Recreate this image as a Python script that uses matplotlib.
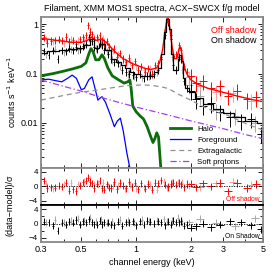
import numpy as np
import matplotlib
matplotlib.use('Agg')
import matplotlib.pyplot as plt
from matplotlib.ticker import FixedLocator, NullFormatter, MultipleLocator

plt.rcParams['font.family'] = ['Liberation Sans', 'DejaVu Sans']
plt.rcParams['axes.unicode_minus'] = True

# ---------------- models ----------------
off_mod_e = [0.3, 0.35, 0.4, 0.45, 0.5, 0.54, 0.57, 0.6, 0.65, 0.7, 0.75, 0.8, 0.85, 0.9, 0.95,
             1.0, 1.1, 1.2, 1.3, 1.35, 1.4, 1.45, 1.49, 1.53, 1.58, 1.63, 1.68, 1.72, 1.75, 1.78,
             1.83, 1.9, 2.0, 2.2, 2.5, 3.0, 3.5, 4.0, 4.5, 5.0]
off_mod_y = [0.52, 0.48, 0.45, 0.43, 0.43, 0.47, 0.55, 0.47, 0.5, 0.4, 0.3, 0.24, 0.2, 0.18, 0.16,
             0.15, 0.13, 0.12, 0.13, 0.17, 0.3, 0.8, 1.4, 0.9, 0.35, 0.2, 0.2, 0.3, 0.35, 0.28,
             0.15, 0.1, 0.075, 0.06, 0.05, 0.042, 0.036, 0.032, 0.029, 0.027]

on_mod_e = [0.3, 0.35, 0.4, 0.45, 0.5, 0.54, 0.57, 0.6, 0.65, 0.7, 0.75, 0.8, 0.85, 0.9, 0.95,
            1.0, 1.1, 1.2, 1.3, 1.35, 1.4, 1.45, 1.49, 1.53, 1.58, 1.63, 1.68, 1.72, 1.75, 1.78,
            1.83, 1.9, 2.0, 2.2, 2.5, 2.8, 3.2, 3.7, 4.3, 5.0]
on_mod_y = [0.26, 0.28, 0.3, 0.31, 0.33, 0.38, 0.5, 0.33, 0.4, 0.3, 0.2, 0.17, 0.15, 0.13, 0.11,
            0.1, 0.088, 0.09, 0.11, 0.13, 0.25, 0.7, 1.3, 0.8, 0.25, 0.12, 0.12, 0.2, 0.24, 0.18,
            0.08, 0.05, 0.042, 0.032, 0.024, 0.019, 0.016, 0.013, 0.011, 0.01]

halo_e = [0.3, 0.35, 0.4, 0.45, 0.5, 0.53, 0.55, 0.565, 0.58, 0.6, 0.625, 0.65, 0.67, 0.7, 0.74,
          0.8, 0.86, 0.9, 0.925, 0.94, 0.96, 1.0, 1.05, 1.1, 1.15, 1.2, 1.24, 1.27, 1.3, 1.33, 1.37]
halo_y = [0.09, 0.1, 0.112, 0.125, 0.14, 0.165, 0.25, 0.32, 0.28, 0.19, 0.19, 0.24, 0.2, 0.13, 0.09,
          0.075, 0.064, 0.068, 0.074, 0.05, 0.022, 0.017, 0.014, 0.012, 0.0085, 0.0055, 0.004, 0.0048,
          0.0063, 0.0052, 0.0012]

fg_e = [0.3, 0.33, 0.36, 0.39, 0.42, 0.445, 0.47, 0.5, 0.52, 0.55, 0.573, 0.595, 0.617, 0.635, 0.65,
        0.68, 0.72, 0.76, 0.79, 0.82, 0.85, 0.89, 0.93]
fg_y = [0.074, 0.077, 0.072, 0.068, 0.08, 0.093, 0.08, 0.047, 0.05, 0.075, 0.086, 0.05, 0.029, 0.032,
        0.034, 0.026, 0.015, 0.0084, 0.011, 0.0125, 0.007, 0.0025, 0.0011]

exg_e = [0.3, 0.4, 0.5, 0.6, 0.7, 0.8, 0.9, 1.0, 1.1, 1.25, 1.4, 1.5, 1.74, 2.0, 2.25, 2.7, 3.16,
         4.0, 4.6, 5.0]
exg_y = [0.029, 0.036, 0.042, 0.046, 0.05, 0.054, 0.057, 0.058, 0.059, 0.057, 0.053, 0.05, 0.037,
         0.029, 0.023, 0.017, 0.0145, 0.0098, 0.008, 0.0072]

sp_e = [0.3, 0.5, 0.7, 1.0, 1.5, 2.0, 3.0, 4.0, 5.0]
sp_y = [0.074, 0.044, 0.03, 0.021, 0.0145, 0.011, 0.0077, 0.0058, 0.0048]

# ---------------- data ----------------
off_e = [0.31, 0.325, 0.34, 0.36, 0.375, 0.39, 0.41, 0.43, 0.45, 0.47, 0.49, 0.51, 0.53, 0.545,
         0.56, 0.575, 0.59, 0.61, 0.63, 0.65, 0.67, 0.69, 0.71, 0.73, 0.76, 0.79, 0.82, 0.85, 0.88,
         0.91, 0.95, 0.99, 1.03, 1.07, 1.12, 1.17, 1.22, 1.27, 1.32, 1.38, 1.45, 1.5, 1.55, 1.6,
         1.66, 1.72, 1.77, 1.83, 1.9, 2.0, 2.15, 2.35, 2.6, 2.9, 3.2, 3.6, 4.1, 4.6]
off_y = [0.55, 0.42, 0.46, 0.48, 0.5, 0.47, 0.56, 0.44, 0.47, 0.4, 0.5, 0.55, 0.6, 0.95,
         0.7, 0.62, 0.5, 0.55, 0.6, 0.48, 0.42, 0.45, 0.35, 0.28, 0.32, 0.22, 0.26, 0.2, 0.17,
         0.21, 0.15, 0.18, 0.12, 0.14, 0.11, 0.13, 0.1, 0.15, 0.16, 0.22, 0.75, 1.2, 0.6, 0.22,
         0.25, 0.38, 0.3, 0.14, 0.11, 0.09, 0.065, 0.07, 0.05, 0.055, 0.035, 0.045, 0.03, 0.033]
off_pale_e = [0.32, 0.35, 0.4, 0.44, 0.48, 0.52, 0.555, 0.585, 0.62, 0.66, 0.7, 0.75, 0.8, 0.87,
              0.93, 1.0, 1.1, 1.2, 1.3, 1.42, 1.48, 1.58, 1.7, 1.8, 1.95, 2.25, 2.75, 3.4, 4.3]
off_pale_y = [0.5, 0.45, 0.42, 0.5, 0.46, 0.5, 0.75, 0.55, 0.5, 0.52, 0.38, 0.3, 0.25, 0.18,
              0.17, 0.14, 0.12, 0.13, 0.12, 0.4, 1.3, 0.3, 0.3, 0.2, 0.085, 0.055, 0.042, 0.04, 0.028]

on_e = [0.31, 0.33, 0.35, 0.37, 0.39, 0.41, 0.43, 0.45, 0.47, 0.49, 0.51, 0.53, 0.55, 0.57,
        0.59, 0.61, 0.63, 0.65, 0.67, 0.7, 0.73, 0.76, 0.8, 0.84, 0.88, 0.92, 0.96, 1.0, 1.05,
        1.1, 1.15, 1.2, 1.26, 1.32, 1.38, 1.45, 1.5, 1.55, 1.6, 1.66, 1.72, 1.77, 1.83, 1.9,
        2.0, 2.15, 2.35, 2.6, 2.9, 3.3, 3.8, 4.3, 4.85]
on_y = [0.28, 0.24, 0.3, 0.2, 0.3, 0.28, 0.33, 0.3, 0.35, 0.32, 0.36, 0.4, 0.55, 0.45,
        0.35, 0.32, 0.42, 0.38, 0.3, 0.25, 0.2, 0.17, 0.16, 0.12, 0.11, 0.1, 0.095, 0.085, 0.1,
        0.08, 0.09, 0.095, 0.1, 0.12, 0.2, 0.6, 1.1, 0.5, 0.15, 0.12, 0.22, 0.2, 0.07, 0.05,
        0.045, 0.03, 0.022, 0.025, 0.017, 0.013, 0.011, 0.012, 0.006]
on_pale_e = [0.32, 0.36, 0.4, 0.44, 0.48, 0.52, 0.56, 0.6, 0.64, 0.69, 0.74, 0.82, 0.9, 0.98,
             1.08, 1.18, 1.3, 1.42, 1.48, 1.58, 1.7, 1.8, 1.95, 2.25, 2.75, 3.5, 4.5]
on_pale_y = [0.25, 0.32, 0.27, 0.31, 0.3, 0.38, 0.48, 0.33, 0.4, 0.28, 0.19, 0.14, 0.1, 0.09,
             0.085, 0.09, 0.11, 0.35, 1.2, 0.22, 0.2, 0.12, 0.06, 0.035, 0.018, 0.014, 0.01]

# residuals (data-model)/sigma
off_res = [1.5, -0.5, -0.3, -0.4, 0.2, -0.1, 1.0, -1.2, -0.8, -1.3, 0.3, 1.1, 1.5, 2.4,
           1.2, 0.8, -0.5, 0.7, 1.5, -0.6, -1.0, 0.5, -0.4, -0.5, 1.2, -0.9, 0.9, 0.2, -0.6,
           1.3, -0.2, 1.0, -0.9, 0.8, -0.7, 0.6, -1.0, 1.0, 0.8, 1.6, 0.4, -0.2, 0.6, 1.0,
           0.4, 0.9, 0.5, -0.3, 0.6, 0.7, -0.3, 0.8, 0.0, 0.9, -1.4, 0.9, -0.5, 0.6]
off_pale_res = [0.8, -0.6, 0.4, 1.0, 0.5, 1.2, 1.8, 0.4, 0.6, 0.9, 0.3, 0.2, 0.3, -0.6,
                0.4, -0.5, -0.3, 0.5, -1.0, 1.2, -0.4, 0.9, 1.0, 1.0, 0.2, -0.3, 0.8, 1.2, 0.4]
on_res = [0.5, 0.3, -0.6, -2.0, 0.2, -0.3, 0.5, 0.2, 1.0, -0.4, 0.6, 0.4, 1.2, 0.3,
          -0.2, -0.3, 0.8, -0.2, 0.4, 0.2, -0.3, -0.5, 0.5, -0.6, 0.4, 0.3, 0.6, -0.5, 0.6,
          -0.4, 0.8, 0.5, 0.0, 0.6, 0.4, -0.5, 0.5, -0.4, 0.8, 0.3, 0.4, 0.7, -0.6, -0.3,
          -1.2, -0.8, 0.0, -1.0, -0.4, 0.6, 0.3, -0.5, -1.6]
on_pale_res = [0.3, 1.0, 0.4, 0.8, 1.4, 0.9, 1.6, 0.5, 1.2, 0.2, 0.6, 1.1, 0.7, 0.3,
               1.0, 0.5, 0.8, 1.2, 0.6, 0.9, 1.6, 0.2, 0.3, 1.4, 0.2, -0.8, 1.5]

RED = '#ff0000'
PALE_RED = '#ff9a9a'
PALE_GRAY = '#a8a8a8'


def errs(e, y, frac_x, frac_y):
    e = np.array(e)
    y = np.array(y)
    return e, y, e * frac_x, y * frac_y


fig = plt.figure(figsize=(2.74, 2.74), dpi=100)
L, W = 41 / 274, 222 / 274
ax = fig.add_axes([L, 1 - 167.5 / 274, W, 150.5 / 274])
r1 = fig.add_axes([L, 1 - 205 / 274, W, 37.5 / 274], sharex=ax)
r2 = fig.add_axes([L, 1 - 242 / 274, W, 37 / 274], sharex=ax)

ekw = dict(fmt='none', lw=0.7, capsize=0)

# data points
for e, y, c in [(off_pale_e, off_pale_y, PALE_RED), (on_pale_e, on_pale_y, PALE_GRAY),
                (off_e, off_y, RED), (on_e, on_y, 'black')]:
    ee, yy, xe, ye = errs(e, y, 0.012, 0.17)
    hi = np.array(e) > 1.9
    xe[hi] = ee[hi] * 0.05
    ye[hi] = yy[hi] * 0.35
    ax.errorbar(ee, yy, xerr=xe, yerr=ye, color=c, **ekw)

# models
ax.plot(off_mod_e, off_mod_y, color=RED, lw=1.0)
ax.plot(on_mod_e, on_mod_y, color='black', lw=0.9, drawstyle='steps-mid')
ax.plot(halo_e, halo_y, color='#0a6e0a', lw=2.0, label='Halo')
ax.plot(fg_e, fg_y, color='#0000ff', lw=0.9, label='Foreground')
ax.plot(exg_e, exg_y, color='#909090', lw=0.9, ls=(0, (4, 3)), label='Extragalactic')
ax.plot(sp_e, sp_y, color='#a040f0', lw=0.9, ls=(0, (5, 2, 1, 2)), label='Soft protons')

ax.set_xscale('log')
ax.set_yscale('log')
ax.set_xlim(0.3, 5)
ax.set_ylim(0.00125, 1.4)
ax.set_yticks([0.01, 0.1, 1])
ax.set_yticklabels(['0.01', '0.1', '1'])
ax.set_ylabel('counts s$^{-1}$ keV$^{-1}$', fontsize=6.5, labelpad=2)
ax.set_title('Filament, XMM MOS1 spectra, ACX\u2212SWCX f/g model', fontsize=6.5, pad=4)
ax.text(0.97, 0.895, 'Off shadow', color=RED, transform=ax.transAxes, ha='right', fontsize=6.5)
ax.text(0.97, 0.83, 'On shadow', color='black', transform=ax.transAxes, ha='right', fontsize=6.5)
ax.legend(loc='lower left', bbox_to_anchor=(0.555, -0.03), frameon=False, fontsize=5.6,
          handlelength=2.7, handletextpad=0.7, labelspacing=0.45, borderpad=0.3)

# residuals
for axr, sets, lab, lc in [
        (r1, [(off_pale_e, off_pale_res, PALE_RED), (off_e, off_res, RED)], 'Off shadow', RED),
        (r2, [(on_pale_e, on_pale_res, PALE_GRAY), (on_e, on_res, 'black')], 'On Shadow', 'black')]:
    for e, r, c in sets:
        ee = np.array(e)
        xe = ee * 0.012
        xe[ee > 1.9] = ee[ee > 1.9] * 0.05
        axr.errorbar(ee, r, xerr=xe, yerr=np.full(len(r), 1.0), color=c, **ekw)
    axr.axhline(0, color='black', lw=0.6, ls=(0, (1.5, 1.5)))
    axr.set_ylim(-5.2, 5.2)
    axr.set_yticks([-4, 0, 4])
    axr.set_yticklabels(['\u22124', '0', '4'])
    axr.yaxis.set_minor_locator(MultipleLocator(2))
    axr.text(0.985, 0.05, lab, color=lc, transform=axr.transAxes, ha='right', va='bottom',
             fontsize=4.8)

for a in (ax, r1, r2):
    a.xaxis.set_major_locator(FixedLocator([0.3, 0.5, 1, 2, 3, 5]))
    a.xaxis.set_minor_locator(FixedLocator([0.4, 0.6, 0.7, 0.8, 0.9, 4]))
    a.xaxis.set_minor_formatter(NullFormatter())
    a.tick_params(which='both', direction='in', top=True, right=True, labelsize=6.5,
                  width=0.6, pad=2)
    a.tick_params(which='major', length=3.5)
    a.tick_params(which='minor', length=2)
    for s in a.spines.values():
        s.set_color('#888888')
        s.set_linewidth(1.3)
for a in (r1, r2):
    a.tick_params(axis='y', labelsize=5.8)
for a in (ax, r1):
    plt.setp(a.get_xticklabels(), visible=False)
r2.set_xticklabels(['0.3', '0.5', '1', '2', '3', '5'])
r1.spines['bottom'].set_color('black')
r2.spines['top'].set_color('black')
r2.set_xlabel('channel energy (keV)', fontsize=6.5, labelpad=3)
fig.text(10 / 274, 1 - 205 / 274, '(data\u2212model)/\u03c3', rotation=90, fontsize=6.5,
         ha='center', va='center')

fig.savefig('out.png', dpi=100)
